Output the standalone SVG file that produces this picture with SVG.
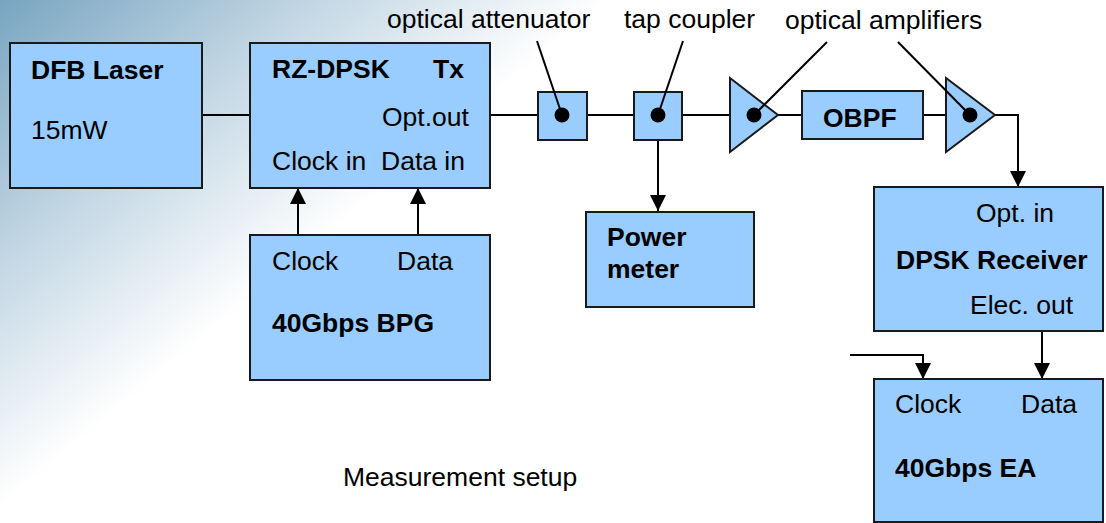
<svg xmlns="http://www.w3.org/2000/svg" width="1106" height="523" viewBox="0 0 1106 523">
<defs>
<linearGradient id="bg" gradientUnits="userSpaceOnUse" x1="0" y1="0" x2="250" y2="300">
<stop offset="0" stop-color="#78A5C1"/>
<stop offset="0.5" stop-color="#C0D5E3"/>
<stop offset="1" stop-color="#FFFFFF"/>
</linearGradient>
<marker id="arr" markerUnits="userSpaceOnUse" markerWidth="16" markerHeight="16" viewBox="0 0 16 16" refX="16" refY="8" orient="auto">
<path d="M0,0 L16,8 L0,16 Z" fill="#000"/>
</marker>
</defs>
<style>
.box{fill:#99CCFF;stroke:#1a1a1a;stroke-width:2}
.ln{fill:none;stroke:#000;stroke-width:2}
.t{font-family:"Liberation Sans",Arial,sans-serif;font-size:26.5px;fill:#000}
.b{font-weight:bold}
</style>
<rect x="0" y="0" width="1106" height="523" fill="url(#bg)"/>

<g id="connectors">
<line class="ln" x1="202" y1="115" x2="250" y2="115"/>
<line class="ln" x1="490" y1="115" x2="538" y2="115"/>
<line class="ln" x1="587" y1="115" x2="634" y2="115"/>
<line class="ln" x1="682" y1="115" x2="730" y2="115"/>
<line class="ln" x1="778" y1="115" x2="802" y2="115"/>
<line class="ln" x1="923" y1="115" x2="946" y2="115"/>
<polyline class="ln" points="995,115 1018,115 1018,187" marker-end="url(#arr)"/>
<line class="ln" x1="658" y1="140" x2="658" y2="211" marker-end="url(#arr)"/>
<line class="ln" x1="298" y1="235" x2="298" y2="188" marker-end="url(#arr)"/>
<line class="ln" x1="418" y1="235" x2="418" y2="188" marker-end="url(#arr)"/>
<polyline class="ln" points="850,355 923,355 923,379" marker-end="url(#arr)"/>
<line class="ln" x1="1042" y1="331" x2="1042" y2="379" marker-end="url(#arr)"/>
</g>

<g id="dfb">
<rect class="box" x="10" y="43" width="192" height="145"/>
<text class="t b" x="31" y="79">DFB Laser</text>
<text class="t" x="31" y="139">15mW</text>
</g>

<g id="tx">
<rect class="box" x="250" y="43" width="240" height="145"/>
<text class="t b" x="272" y="78">RZ-DPSK</text>
<text class="t b" x="433" y="78">Tx</text>
<text class="t" x="382" y="126">Opt.out</text>
<text class="t" x="272" y="170">Clock in</text>
<text class="t" x="381" y="170">Data in</text>
</g>

<g id="bpg">
<rect class="box" x="250" y="235" width="240" height="145"/>
<text class="t" x="272" y="270">Clock</text>
<text class="t" x="397" y="270">Data</text>
<text class="t b" x="272" y="332">40Gbps BPG</text>
</g>

<g id="attenuator">
<rect class="box" x="538" y="92" width="49" height="48"/>
<circle cx="562" cy="115" r="7.5" fill="#000"/>
</g>

<g id="tap">
<rect class="box" x="634" y="92" width="48" height="48"/>
<circle cx="658" cy="115" r="7.5" fill="#000"/>
</g>

<g id="amp1">
<polygon class="box" points="730,78 730,152 778,115"/>
<circle cx="754" cy="115" r="7.5" fill="#000"/>
</g>

<g id="obpf">
<rect class="box" x="802" y="91" width="121" height="48"/>
<text class="t b" x="823" y="127">OBPF</text>
</g>

<g id="amp2">
<polygon class="box" points="946,78 946,152 995,115"/>
<circle cx="970" cy="115" r="7.5" fill="#000"/>
</g>

<g id="power">
<rect class="box" x="586" y="212" width="168" height="95"/>
<text class="t b" x="607" y="246">Power</text>
<text class="t b" x="607" y="278">meter</text>
</g>

<g id="receiver">
<rect class="box" x="874" y="187" width="229" height="144"/>
<text class="t" x="976" y="222">Opt. in</text>
<text class="t b" x="896" y="269">DPSK Receiver</text>
<text class="t" x="970" y="314">Elec. out</text>
</g>

<g id="ea">
<rect class="box" x="874" y="379" width="229" height="143"/>
<text class="t" x="895" y="413">Clock</text>
<text class="t" x="1021" y="413">Data</text>
<text class="t b" x="895" y="477">40Gbps EA</text>
</g>

<g id="labels">
<line class="ln" x1="537" y1="41" x2="562" y2="115"/>
<line class="ln" x1="683" y1="41" x2="658" y2="115"/>
<line class="ln" x1="827" y1="42" x2="754" y2="115"/>
<line class="ln" x1="898" y1="42" x2="970" y2="115"/>
<text class="t" x="387" y="28">optical attenuator</text>
<text class="t" x="624" y="28">tap coupler</text>
<text class="t" x="785" y="29">optical amplifiers</text>
<text class="t" x="343" y="486">Measurement setup</text>
</g>
</svg>
